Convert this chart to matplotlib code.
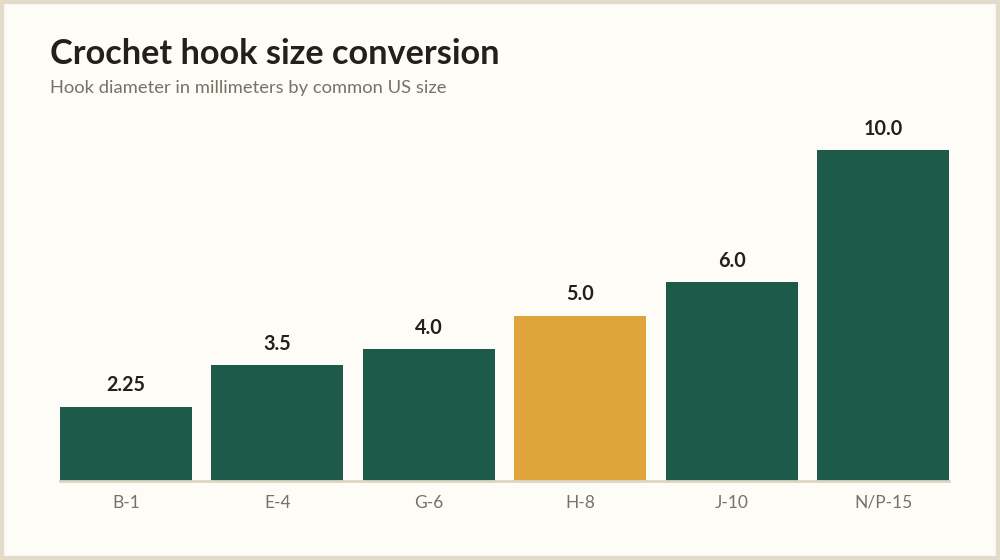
import matplotlib.pyplot as plt
from matplotlib.patches import Rectangle

# data
sizes = ['B-1', 'E-4', 'G-6', 'H-8', 'J-10', 'N/P-15']
diameters = [2.25, 3.5, 4.0, 5.0, 6.0, 10.0]
labels = ['2.25', '3.5', '4.0', '5.0', '6.0', '10.0']
highlight = 'H-8'

green = '#1d5a4a'
gold = '#e0a53a'
bg = '#fdfcf7'
ink = '#231f1c'
muted = '#7a7065'

plt.rcParams['font.family'] = ['Lato', 'DejaVu Sans']

fig = plt.figure(figsize=(10, 5.6), dpi=100, facecolor=bg)
# frame around the card
fig.patches.append(Rectangle((0, 0), 1, 1, transform=fig.transFigure,
                             fill=False, edgecolor='#e3dccb', linewidth=6))

ax = fig.add_axes([0.06, 0.141, 0.889, 0.65])
ax.set_facecolor(bg)

colors = [gold if s == highlight else green for s in sizes]
x = range(len(sizes))
bars = ax.bar(x, diameters, width=0.87, color=colors, zorder=2)

for b, lab in zip(bars, labels):
    ax.annotate(lab, (b.get_x() + b.get_width() / 2, b.get_height()),
                xytext=(0, 8), textcoords='offset points',
                ha='center', va='bottom', fontsize=14.2,
                fontweight='bold', color=ink)

ax.set_xlim(-0.435, len(sizes) - 1 + 0.435)
ax.set_ylim(0, 11)
ax.set_xticks(list(x))
ax.set_xticklabels(sizes, fontsize=12.5, color=muted)
ax.tick_params(axis='x', length=0, pad=10)
ax.set_yticks([])
for side in ['top', 'right', 'left']:
    ax.spines[side].set_visible(False)
ax.spines['bottom'].set_color('#ddd5c5')
ax.spines['bottom'].set_linewidth(2)
ax.spines['bottom'].set_zorder(3)

fig.text(0.05, 0.886, 'Crochet hook size conversion', fontsize=24.7,
         fontweight='bold', color=ink, va='baseline')
fig.text(0.05, 0.834, 'Hook diameter in millimeters by common US size',
         fontsize=13.2, color=muted, va='baseline')

fig.savefig('out.png', dpi=100, facecolor=bg)
